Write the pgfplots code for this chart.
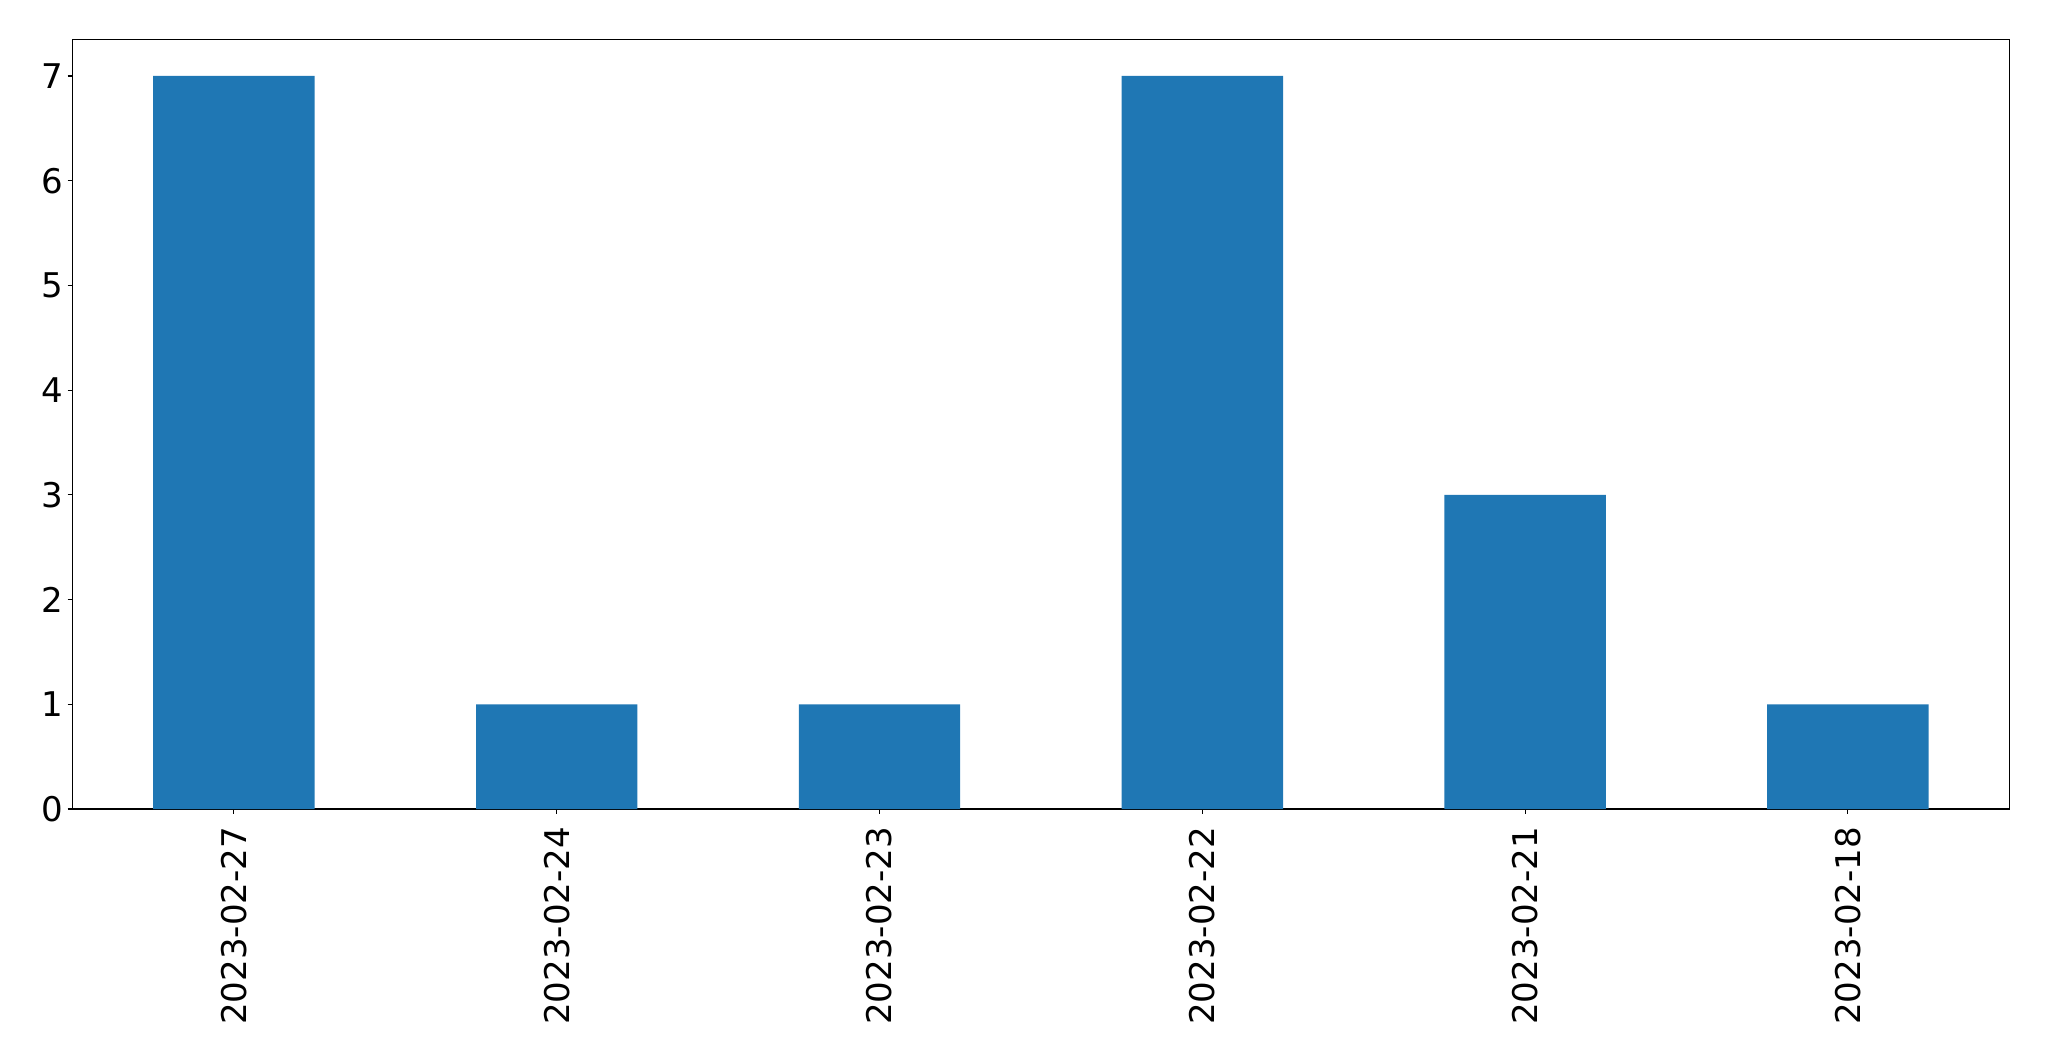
\documentclass[border=0pt]{standalone}
\usepackage{fontspec}
\setmainfont{DejaVu Sans}
\usepackage{pgfplots}
\pgfplotsset{compat=1.18}
\definecolor{mplblue}{HTML}{1F77B4}
\begin{document}
\begin{tikzpicture}
\useasboundingbox (0,0) rectangle (1475.3pt,763.9pt);
\begin{axis}[
  at={(52.2pt,181.4pt)}, anchor=south west,
  scale only axis, width=1394.6pt, height=554.2pt,
  xmin=-0.5, xmax=5.5, ymin=0, ymax=7.35,
  xtick={0,1,2,3,4,5},
  xticklabels={2023-02-27,2023-02-24,2023-02-23,2023-02-22,2023-02-21,2023-02-18},
  ytick={0,1,2,3,4,5,6,7},
  tick label style={font=\fontsize{24.5}{28}\selectfont},
  x tick label style={rotate=90, anchor=east, inner xsep=9.3pt},
  /pgf/number format/assume math mode=true,
  tick align=outside, tick pos=left,
  major tick length=3.5pt,
  every tick/.style={black, line width=0.8pt},
  axis line style={line width=0.8pt},
  xtick style={black}, ytick style={black},
  ybar, bar width=0.5,
]
\addplot[fill=mplblue, draw=none] coordinates {(0,7) (1,1) (2,1) (3,7) (4,3) (5,1)};
\end{axis}
\end{tikzpicture}
\end{document}
